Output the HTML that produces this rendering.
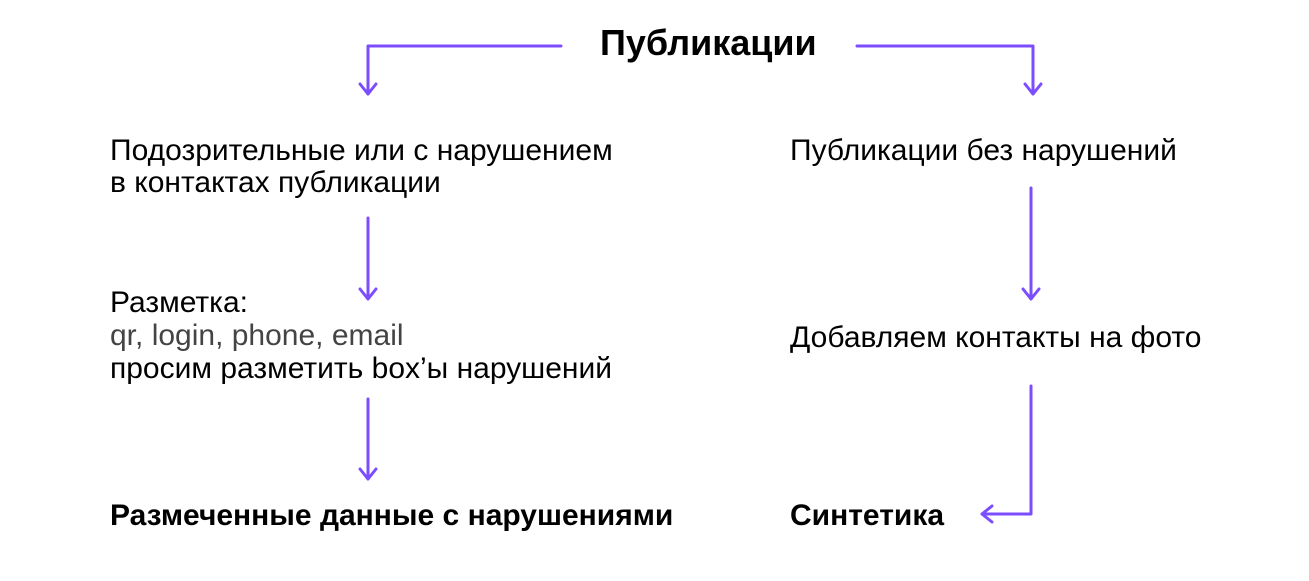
<!DOCTYPE html>
<html><head><meta charset="utf-8"><style>
html,body{margin:0;padding:0;background:#fff;}
body{width:1309px;height:581px;position:relative;overflow:hidden;font-family:"Liberation Sans",Arial,sans-serif;color:#000;}
.t{position:absolute;font-size:30px;line-height:32px;white-space:nowrap;}
.b{font-weight:bold;}
svg{position:absolute;left:0;top:0;}
</style></head><body>
<svg width="1309" height="581">
<g stroke="#7c4dff" stroke-width="3" fill="none" stroke-linecap="round" stroke-linejoin="round">
<polyline points="561,46 368,46 368,94"/><polyline points="360,84 368,94 376,84"/>
<polyline points="857,46 1033,46 1033,94"/><polyline points="1025,84 1033,94 1041,84"/>
<line x1="368" y1="218" x2="368" y2="299"/><polyline points="360,289 368,299 376,289"/>
<line x1="368" y1="399" x2="368" y2="479"/><polyline points="360,469 368,479 376,469"/>
<line x1="1031" y1="188" x2="1031" y2="299"/><polyline points="1023,289 1031,299 1039,289"/>
<polyline points="1031,386 1031,514 982,514"/><polyline points="992,506 982,514 992,522"/>
</g></svg>
<div class="t b" style="left:600px;top:25px;font-size:36px;line-height:36px;">Публикации</div>
<div class="t" style="left:110px;top:135px;">Подозрительные или с нарушением<br>в контактах публикации</div>
<div class="t" style="left:110px;top:286px;line-height:33px;">Разметка:<br><span style="color:#444">qr, login, phone, email</span><br>просим разметить box’ы нарушений</div>
<div class="t b" style="left:110px;top:500px;">Размеченные данные с нарушениями</div>
<div class="t" style="left:790px;top:135px;">Публикации без нарушений</div>
<div class="t" style="left:790px;top:322px;">Добавляем контакты на фото</div>
<div class="t b" style="left:790px;top:500px;">Синтетика</div>
</body></html>
